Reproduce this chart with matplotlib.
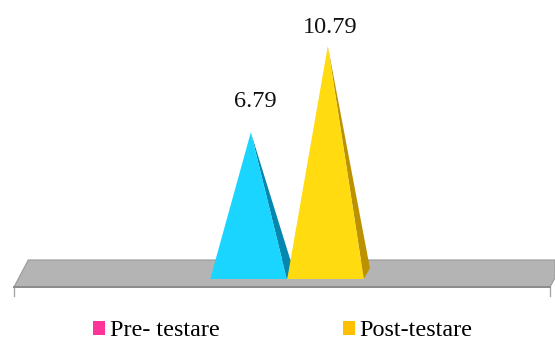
import matplotlib
matplotlib.use("Agg")
import matplotlib.pyplot as plt
from matplotlib.patches import Polygon, Patch

plt.rcParams['font.family'] = ['Liberation Serif', 'DejaVu Serif']

categories = ["Pre- testare", "Post-testare"]
values = [6.79, 10.79]
value_labels = ["6.79", "10.79"]
front_colors = ["#19D5FF", "#FFDB0F"]
side_colors = ["#0587B0", "#BD9200"]
legend_colors = ["#FF3399", "#FFC000"]
label_offsets = [(3, 14.5), (1.5, 6)]

fig = plt.figure(figsize=(5.55, 3.42), dpi=100)
ax = fig.add_axes([0, 0, 1, 1])
ax.set_xlim(-3.227, 3.98)
ax.set_ylim(-2.917, 12.917)
ax.axis("off")

# floor of the 3d box
floor = [(-3.045, -0.37), (-2.86, 0.88), (3.98, 0.88), (3.98, 0.05), (3.915, -0.37)]
ax.add_patch(Polygon(floor, closed=True, fc="#B4B4B4", ec="#999999", lw=0.8, zorder=1))
ax.plot([-3.045, 3.915], [-0.37, -0.37], color="#8C8C8C", lw=1.4, zorder=2)
for xt in [-3.045, 3.915]:
    ax.plot([xt, xt], [-0.37, -0.8], color="#A8A8A8", lw=1.0, zorder=1)

# pyramids, side face first so the next one overlaps it
half = 0.497
tip_shift = 0.03
depth_x, depth_y = 0.08, 0.5
for i, v in enumerate(values):
    side = [(i + tip_shift, v), (i + half, 0), (i + half + depth_x, depth_y)]
    ax.add_patch(Polygon(side, closed=True, fc=side_colors[i], ec="none", zorder=3 + i))
    front = [(i - half, 0), (i + half, 0), (i + tip_shift, v)]
    ax.add_patch(Polygon(front, closed=True, fc=front_colors[i], ec="none", zorder=3 + i))
    ax.annotate(value_labels[i], (i + tip_shift, v), xytext=label_offsets[i], textcoords="offset points",
                ha="center", va="bottom", fontsize=17.5, color="#111111")

handles = [Patch(fc=c, ec="none") for c in legend_colors]
fig.legend(handles, categories, loc="lower left", bbox_to_anchor=(0.1375, -0.048), ncols=2,
           frameon=False, fontsize=17.4, handlelength=0.5, handleheight=0.54,
           handletextpad=0.18, columnspacing=5.12, borderpad=0.2)

fig.savefig("out.png", dpi=100)
